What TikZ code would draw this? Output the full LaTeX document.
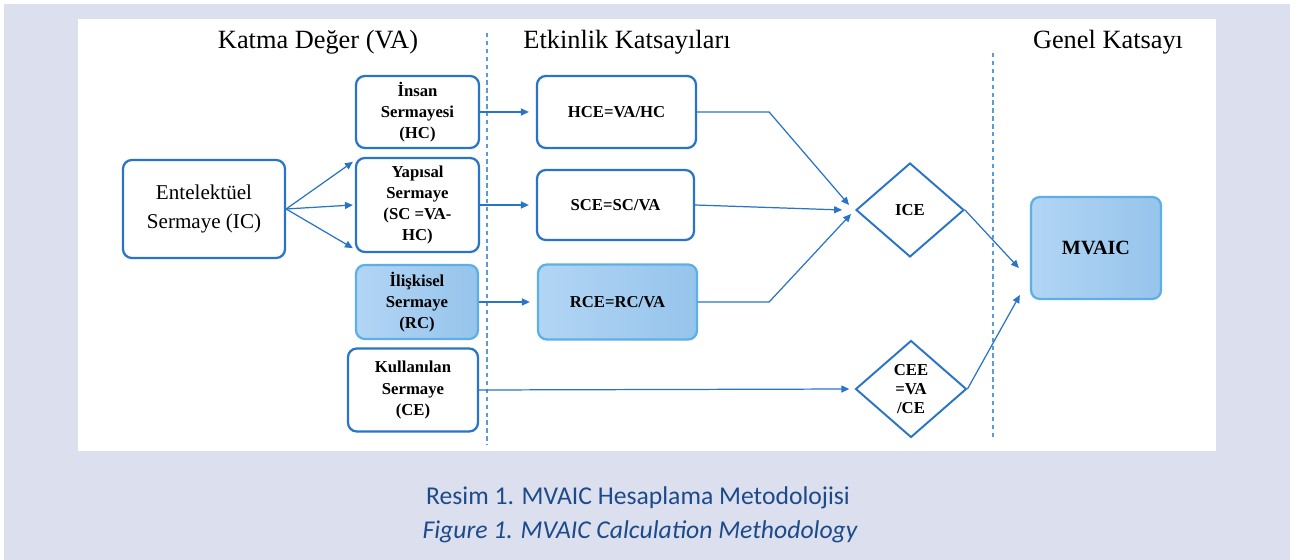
\documentclass[tikz,border=0pt]{standalone}
\usepackage{fontspec}
\setmainfont{Liberation Serif}
\newfontfamily\capfont{Carlito}
\usetikzlibrary{arrows.meta,positioning,shapes.geometric}
\definecolor{myblue}{RGB}{40,116,200}
\definecolor{mylight}{RGB}{92,176,230}
\definecolor{myfillA}{RGB}{178,213,244}
\definecolor{myfillB}{RGB}{150,196,236}
\definecolor{myback}{RGB}{220,224,238}
\definecolor{mycap}{RGB}{28,74,138}
\definecolor{mydash}{RGB}{91,155,213}

\begin{document}
\begin{tikzpicture}[x=0.02cm, y=-0.02cm,
    box/.style={rectangle, rounded corners=5pt, draw=myblue, line width=1.3pt, fill=white,
                align=center, inner sep=1pt, font=\bfseries\fontsize{9.5}{12}\selectfont},
    boxfill/.style={box, draw=mylight, left color=myfillA, right color=myfillB},
    dia/.style={diamond, draw=myblue, line width=1.1pt, fill=white, inner sep=0pt,
                align=center, font=\bfseries\fontsize{9.5}{11}\selectfont},
    head/.style={font=\fontsize{15}{18}\selectfont},
    capt/.style={text=mycap, font=\capfont\fontsize{14.6}{17}\selectfont},
    arr/.style={-{Triangle[length=4.5pt,width=4pt]}, myblue, line width=0.7pt},
    sep/.style={mydash, line width=0.8pt, dash pattern=on 2.5pt off 2pt}]
\fill[white] (0,0) rectangle (1295,560);
\fill[myback] (4,4) rectangle (1290,560);
\fill[white] (78,19) rectangle (1216,451);
\node[head] (tva) at (318,42) {Katma Değer (VA)};
\node[head] (tek) at (627,42) {Etkinlik Katsayıları};
\node[head] (tgk) at (1108,42) {Genel Katsayı};
\draw[sep] (487,33) -- (487,445);
\draw[sep] (993,53) -- (993,438);
\node[box, font=\fontsize{12}{16}\selectfont, minimum width=3.24cm, minimum height=1.96cm] (ic) at (204,209) {Entelektüel\\Sermaye (IC)};
\node[box, minimum width=2.46cm, minimum height=1.44cm] (hc) at (417.5,112) {İnsan\\Sermayesi\\(HC)};
\node[box, minimum width=2.46cm, minimum height=1.88cm] (sc) at (417.5,205) {Yapısal\\Sermaye\\(SC =VA-\\HC)};
\node[boxfill, minimum width=2.44cm, minimum height=1.48cm] (rc) at (417,302) {İlişkisel\\Sermaye\\(RC)};
\node[box, minimum width=2.6cm, minimum height=1.66cm] (ce) at (413,390) {Kullanılan\\Sermaye\\(CE)};
\node[box, minimum width=3.18cm, minimum height=1.44cm] (hce) at (616.5,112) {HCE=VA/HC};
\node[box, minimum width=3.14cm, minimum height=1.4cm] (sce) at (615.5,205) {SCE=SC/VA};
\node[boxfill, minimum width=3.18cm, minimum height=1.5cm] (rce) at (617.5,302) {RCE=RC/VA};
\node[dia, minimum width=2.16cm, minimum height=1.88cm] (ice) at (910,210) {ICE};
\node[dia, minimum width=2.22cm, minimum height=1.94cm] (cee) at (911,389) {CEE\\=VA\\/CE};
\node[boxfill, font=\bfseries\fontsize{11.5}{14}\selectfont, minimum width=2.6cm, minimum height=2.04cm] (mvaic) at (1096,248) {MVAIC};
\node[capt] (cap1) at (638,498) {Resim 1. MVAIC Hesaplama Metodolojisi};
\node[capt, font=\capfont\itshape\fontsize{14.6}{17}\selectfont] (cap2) at (640,532) {Figure 1. MVAIC Calculation Methodology};
\draw[arr] (ic.east) -- ([xshift=-0.04cm,yshift=-0.1cm]sc.north west);
\draw[arr] (ic.east) -- ([xshift=-0.04cm]sc.west);
\draw[arr] (ic.east) -- ([xshift=-0.04cm,yshift=0.1cm]sc.south west);
\draw[arr, shorten >=4pt] (hc.east) -- (hce.west);
\draw[arr, shorten >=4pt] (sc.east) -- (sce.west);
\draw[arr, shorten >=4pt] (rc.east) -- (rce.west);
\draw[arr] (hce.east) -- ++(72,0) -- ([xshift=-0.12cm,yshift=0.1cm]ice.west);
\draw[arr] (sce.east) -- ([xshift=-0.26cm]ice.west);
\draw[arr] (rce.east) -- ++(71,0) -- ([xshift=-0.08cm,yshift=-0.08cm]ice.west);
\draw[arr, shorten >=3pt] (ce.east) -- (cee.west);
\draw[arr] (ice.east) -- ([xshift=-0.22cm,yshift=-0.4cm]mvaic.west);
\draw[arr] (cee.east) -- ([xshift=-0.2cm,yshift=-0.94cm]mvaic.west);
\end{tikzpicture}
\end{document}
